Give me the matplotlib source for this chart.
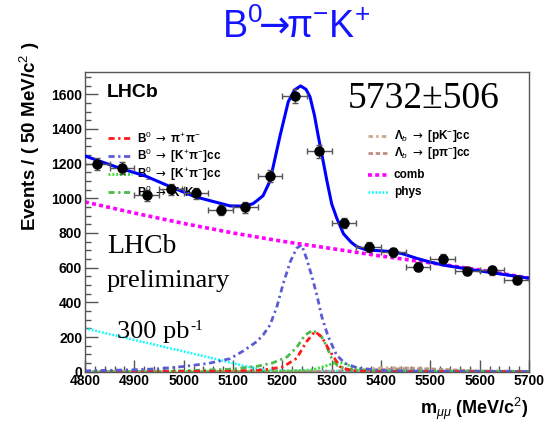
import matplotlib
matplotlib.use("Agg")
import matplotlib.pyplot as plt
from matplotlib.ticker import MultipleLocator

plt.rcParams['font.family'] = ['Liberation Sans', 'DejaVu Sans']
plt.rcParams['mathtext.fontset'] = 'custom'
plt.rcParams['mathtext.rm'] = 'Liberation Sans'
plt.rcParams['mathtext.it'] = 'Liberation Sans:italic'
plt.rcParams['mathtext.bf'] = 'Liberation Sans:bold'
plt.rcParams['mathtext.sf'] = 'DejaVu Sans'

# ---- data ----
bin_centers = [4825, 4875, 4925, 4975, 5025, 5075, 5125, 5175, 5225,
               5275, 5325, 5375, 5425, 5475, 5525, 5575, 5625, 5675]
counts = [1200, 1175, 1018, 1052, 1028, 933, 947, 1129, 1588,
          1270, 860, 720, 688, 605, 651, 580, 584, 527]
count_err = [35, 34, 32, 32, 32, 31, 31, 34, 40, 36, 29, 27, 26, 25, 26, 24, 24, 23]
bin_half_width = [25] * len(bin_centers)

fit_x = [4800, 4871, 4922, 4972, 5023, 5074, 5094, 5120, 5140, 5148, 5161, 5175,
         5195, 5212, 5225, 5237, 5248, 5256, 5265, 5273, 5282, 5290, 5300, 5310,
         5324, 5340, 5351, 5371, 5400, 5425, 5445, 5472, 5500, 5526, 5587, 5641, 5700]
fit_y = [1244, 1173, 1129, 1068, 1009, 971, 956, 955, 968, 985, 1015, 1100,
         1356, 1557, 1625, 1648, 1628, 1586, 1480, 1356, 1225, 1106, 968, 888,
         795, 745, 721, 702, 697, 692, 679, 654, 632, 615, 587, 564, 539]

comb_x = [4800, 4900, 5000, 5100, 5200, 5300, 5400, 5500, 5600, 5700]
comb_y = [979, 915, 855, 800, 752, 710, 667, 628, 587, 540]

b0kpi_x = [4800, 4850, 4900, 4950, 5000, 5050, 5094, 5121, 5148, 5161, 5175, 5189,
           5202, 5216, 5229, 5239, 5249, 5260, 5270, 5280, 5293, 5310, 5327, 5354,
           5400, 5500, 5700]
b0kpi_y = [5, 8, 11, 17, 30, 48, 75, 120, 173, 212, 269, 375,
           510, 634, 712, 731, 654, 548, 442, 317, 202, 96, 48, 20,
           7, 2, 1]

b0pipi_x = [4800, 5100, 5150, 5175, 5202, 5229, 5249, 5266, 5280, 5297, 5317, 5340, 5400, 5700]
b0pipi_y = [0, 3, 8, 15, 29, 77, 173, 232, 200, 115, 29, 5, 1, 0]

bskk_x = [4800, 5000, 5100, 5150, 5180, 5210, 5230, 5246, 5262, 5280, 5290, 5300,
          5312, 5330, 5360, 5700]
bskk_y = [2, 5, 15, 32, 50, 86, 144, 211, 240, 200, 144, 77, 35, 15, 5, 2]

bskpi_x = [4800, 5200, 5260, 5290, 5310, 5325, 5345, 5370, 5400, 5700]
bskpi_y = [1, 3, 10, 35, 55, 48, 25, 8, 3, 1]

lbpk_x = [4800, 5300, 5350, 5400, 5450, 5500, 5550, 5600, 5700]
lbpk_y = [0, 2, 10, 22, 22, 15, 6, 2, 1]

lbppi_x = [4800, 5350, 5400, 5450, 5500, 5550, 5600, 5700]
lbppi_y = [0, 3, 12, 18, 16, 10, 4, 1]

phys_x = [4800, 4900, 5000, 5074, 5128, 5160, 5200, 5700]
phys_y = [250, 183, 117, 67, 29, 12, 5, 3]

# ---- figure ----
W, H = 554, 422
fig = plt.figure(figsize=(W / 100, H / 100), dpi=100)
ax_l, ax_r, ax_t, ax_b = 85, 529, 71.7, 371.7
ax = fig.add_axes([ax_l / W, (H - ax_b) / H, (ax_r - ax_l) / W, (ax_b - ax_t) / H])

DASHDOT = (0, (2.2, 1.3, 0.8, 1.3))
DOT = (0, (0.7, 0.7))
st_phys = dict(color='#00ffff', lw=1.8, ls=DOT)
st_lbpk = dict(color='#c8a98a', lw=2, ls=(0, (1.6, 1.2, 0.8, 1.2)))
st_lbppi = dict(color='#c08c86', lw=2, ls=(0, (1.6, 1.0)))
st_bskpi = dict(color='#33e033', lw=2, ls=DOT)
st_bskk = dict(color='#4cbb4c', lw=2, ls=DASHDOT)
st_pipi = dict(color='#ff1a1a', lw=2, ls=DASHDOT)
st_kpi = dict(color='#5b5bd6', lw=2, ls=DASHDOT)
st_comb = dict(color='#ff00ff', lw=2.6, ls=(0, (1.1, 0.9)))

ax.plot(phys_x, phys_y, **st_phys)
ax.plot(lbpk_x, lbpk_y, **st_lbpk)
ax.plot(lbppi_x, lbppi_y, **st_lbppi)
ax.plot(bskpi_x, bskpi_y, **st_bskpi)
ax.plot(bskk_x, bskk_y, **st_bskk)
ax.plot(b0pipi_x, b0pipi_y, **st_pipi)
ax.plot(b0kpi_x, b0kpi_y, **st_kpi)
ax.plot(comb_x, comb_y, **st_comb)
ax.plot(fit_x, fit_y, color='#0000ff', lw=2.2, zorder=5)

ax.errorbar(bin_centers, counts, yerr=count_err, xerr=bin_half_width, fmt='o',
            color='black', ms=6.5, ecolor='#555555', elinewidth=1, capsize=2,
            capthick=1, zorder=6)

ax.set_xlim(4800, 5700)
ax.set_ylim(0, 1730)
ax.xaxis.set_major_locator(MultipleLocator(100))
ax.xaxis.set_minor_locator(MultipleLocator(20))
ax.yaxis.set_major_locator(MultipleLocator(200))
ax.yaxis.set_minor_locator(MultipleLocator(50))
ax.tick_params(which='both', direction='in', color='#555555', width=1,
               labelsize=10)
ax.tick_params(which='major', length=9, pad=2)
ax.tick_params(which='minor', length=4.5)
for lab in ax.get_xticklabels() + ax.get_yticklabels():
    lab.set_fontweight('bold')
for s in ax.spines.values():
    s.set_color('#555555')
    s.set_linewidth(1)

def fx(px):
    return (px - ax_l) / (ax_r - ax_l)

def fy(py):
    return (ax_b - py) / (ax_b - ax_t)

ARR = r' $\mathsf{\rightarrow}$ '
left_entries = [
    (st_pipi, 'B$^{0}$' + ARR + 'π$^{+}$π$^{-}$', 138.3),
    (st_kpi, 'B$^{0}$' + ARR + '[K$^{+}$π$^{-}$]cc', 156),
    (st_bskpi, 'B$_{s}^{0}$' + ARR + '[K$^{+}$π$^{-}$]cc', 174),
    (st_bskk, 'B$_{s}^{0}$' + ARR + 'K$^{+}$K$^{-}$', 192.3),
]
for st, txt, py in left_entries:
    ax.plot([fx(108), fx(132)], [fy(py), fy(py)], transform=ax.transAxes, **st)
    ax.text(fx(137), fy(py), txt, transform=ax.transAxes, fontsize=8.5,
            fontweight='bold', va='center', ha='left')

right_entries = [
    (st_lbpk, 'Λ$_{b}$' + ARR + '[pK$^{-}$]cc', 135.7),
    (st_lbppi, 'Λ$_{b}$' + ARR + '[pπ$^{-}$]cc', 153.3),
    (st_comb, 'comb', 174.7),
    (st_phys, 'phys', 192.3),
]
for st, txt, py in right_entries:
    ax.plot([fx(368), fx(388)], [fy(py), fy(py)], transform=ax.transAxes, **st)
    ax.text(fx(394), fy(py), txt, transform=ax.transAxes, fontsize=8.5,
            fontweight='bold', va='center', ha='left')

# texts
ax.text(fx(106.7), fy(96.7), 'LHCb', transform=ax.transAxes, fontsize=14,
        fontweight='bold', va='baseline', ha='left')
ax.text(fx(348), fy(108.3), '5732±506', transform=ax.transAxes, fontsize=27,
        family='Liberation Serif', va='baseline', ha='left')
ax.text(fx(107), fy(253), 'LHCb', transform=ax.transAxes, fontsize=20,
        family='Liberation Serif', va='baseline', ha='left')
ax.text(fx(107), fy(287), 'preliminary', transform=ax.transAxes, fontsize=19,
        family='Liberation Serif', va='baseline', ha='left')
t300 = ax.text(fx(116.7), fy(338.3), '300 pb', transform=ax.transAxes,
               fontsize=19, family='Liberation Serif', va='baseline', ha='left')
fig.canvas.draw()
bb = t300.get_window_extent()
ax.text(bb.x1 + 1, bb.y0 + 0.62 * bb.height, '-1', transform=None,
        fontsize=11, family='Liberation Serif', va='baseline', ha='left')

fig.text(296 / W, 1 - 27 / H,
         r'B$^{0}\!\!\mathsf{\rightarrow}\!\!$π$^{-}$K$^{+}$',
         color='#1414ff', fontsize=27, ha='center', va='center')

fig.text(30 / W, 1 - 42 / H, 'Events / ( 50 MeV/c$^{2}$ )', rotation=90,
         fontsize=13.5, fontweight='bold', ha='center', va='top')
fig.text(528 / W, 1 - 414 / H, 'm$_{μμ}$ (MeV/c$^{2}$)', fontsize=13,
         fontweight='bold', ha='right', va='baseline')

fig.savefig('out.png', dpi=100)
